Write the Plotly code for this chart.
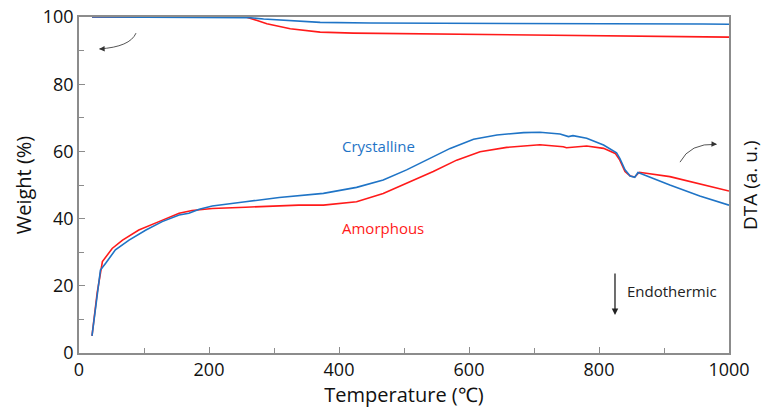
import plotly.graph_objects as go

# ---- data ----
tg_cryst_T = [20, 100, 200, 250, 262, 284, 320, 371, 448, 700, 900, 960, 1000]
tg_cryst_W = [100, 100, 100, 100, 99.8, 99.4, 98.9, 98.4, 98.2, 98.15, 98.1, 97.9, 97.85]

tg_amor_T = [20, 100, 200, 250, 258, 273, 289, 325, 371, 422, 530, 643, 760, 899, 1000]
tg_amor_W = [100, 100, 100, 100, 99.95, 99.0, 98.0, 96.5, 95.5, 95.2, 95.0, 94.8, 94.4, 94.2, 94.0]

dta_cryst_T = [20, 28, 33, 41, 56, 77, 103, 128, 154, 169, 185, 205, 231, 256, 308, 333,
               376, 427, 468, 504, 540, 571, 607, 643, 684, 709, 740, 753, 760, 781, 807,
               827, 832, 840, 848, 855, 860, 866, 909, 955, 1000]
dta_cryst_V = [5.1, 17.8, 24.7, 26.7, 30.7, 33.6, 36.6, 39.1, 41.1, 41.6, 42.8, 43.75, 44.5,
               45.0, 46.3, 46.7, 47.5, 49.3, 51.5, 54.5, 57.9, 60.9, 63.6, 64.9, 65.6, 65.7,
               65.2, 64.4, 64.7, 63.9, 61.9, 59.6, 57.9, 54.5, 52.7, 52.3, 53.7, 53.3, 50.0,
               46.7, 44.0]

dta_amor_T = [20, 28, 36, 51, 67, 92, 123, 154, 174, 205, 256, 308, 338, 376, 427, 468, 509,
              545, 581, 617, 658, 709, 745, 750, 781, 807, 825, 832, 840, 848, 855, 862, 909,
              955, 1000]
dta_amor_V = [5.1, 18.0, 27.2, 31.1, 33.6, 36.6, 39.1, 41.6, 42.4, 43.0, 43.4, 43.75, 44.0,
              44.0, 45.0, 47.5, 51.0, 54.0, 57.4, 59.9, 61.2, 62.0, 61.4, 61.1, 61.6, 60.9,
              59.4, 57.4, 54.0, 52.7, 52.4, 53.8, 52.5, 50.3, 48.2]

x_ticks = [0, 200, 400, 600, 800, 1000]
y_ticks = [0, 20, 40, 60, 80, 100]

BLUE = "#1f74c6"
RED = "#ff1a1a"
AX = "#8c8c8c"
FONT = "Open Sans"

fig = go.Figure()
fig.add_trace(go.Scatter(x=tg_amor_T, y=tg_amor_W, mode="lines",
                         line=dict(color=RED, width=1.6), name="TG Amorphous"))
fig.add_trace(go.Scatter(x=tg_cryst_T, y=tg_cryst_W, mode="lines",
                         line=dict(color=BLUE, width=1.6), name="TG Crystalline"))
fig.add_trace(go.Scatter(x=dta_amor_T, y=dta_amor_V, mode="lines",
                         line=dict(color=RED, width=1.6), name="DTA Amorphous"))
fig.add_trace(go.Scatter(x=dta_cryst_T, y=dta_cryst_V, mode="lines",
                         line=dict(color=BLUE, width=1.6), name="DTA Crystalline"))

# curved arrows (decorations)
fig.add_shape(type="path", xref="x", yref="y",
              path="M 87.7,95.2 Q 78.5,91.1 31.5,90.5",
              line=dict(color="#555555", width=1))
fig.add_shape(type="path", xref="x", yref="y",
              path="M 924.6,56.8 Q 940,62.5 980.5,62.1",
              line=dict(color="#555555", width=1))

annotations = [
    dict(x=31, y=90.5, ax=37, ay=90.55, xref="x", yref="y", axref="x", ayref="y",
         showarrow=True, arrowhead=2, arrowsize=1.1, arrowwidth=1, arrowcolor="#333333", text=""),
    dict(x=981.5, y=62.1, ax=975.5, ay=62.15, xref="x", yref="y", axref="x", ayref="y",
         showarrow=True, arrowhead=2, arrowsize=1.1, arrowwidth=1, arrowcolor="#333333", text=""),
    dict(x=824.6, y=11.3, ax=824.6, ay=24.1, xref="x", yref="y", axref="x", ayref="y",
         showarrow=True, arrowhead=2, arrowsize=1, arrowwidth=1.3, arrowcolor="#222222", text=""),
    dict(x=460, y=61.5, xref="x", yref="y", text="Crystalline", showarrow=False,
         font=dict(family=FONT, size=15, color=BLUE)),
    dict(x=468, y=37.2, xref="x", yref="y", text="Amorphous", showarrow=False,
         font=dict(family=FONT, size=15, color=RED)),
    dict(x=912, y=18.5, xref="x", yref="y", text="Endothermic", showarrow=False,
         font=dict(family=FONT, size=15, color="#222222")),
    dict(x=1, y=0.5, xref="paper", yref="paper", xshift=21, text="DTA (a. u.)",
         textangle=-90, showarrow=False, xanchor="center", yanchor="middle",
         font=dict(family=FONT, size=19, color="#111111")),
]

fig.update_layout(
    width=766, height=408,
    margin=dict(l=79, r=37, t=17, b=55, autoexpand=False),
    paper_bgcolor="white", plot_bgcolor="white",
    showlegend=False,
    font=dict(family=FONT, size=18, color="#111111"),
    annotations=annotations,
)
fig.update_xaxes(
    range=[0, 1000], tickvals=x_ticks, ticktext=[str(v) for v in x_ticks],
    showgrid=False, zeroline=False, automargin=False,
    showline=True, linecolor=AX, linewidth=1.5, mirror=True,
    ticks="inside", ticklen=6, tickcolor=AX, tickwidth=1.2,
    minor=dict(dtick=100, ticks="inside", ticklen=5, tickcolor=AX, tickwidth=1.2),
    tickfont=dict(family=FONT, size=18, color="#111111"),
    title=dict(text="Temperature (℃)", font=dict(family=FONT, size=20), standoff=2),
)
fig.update_yaxes(
    range=[0, 100], tickvals=y_ticks, ticktext=[str(v) for v in y_ticks],
    showgrid=False, zeroline=False, automargin=False,
    showline=True, linecolor=AX, linewidth=1.5, mirror=True,
    ticks="inside", ticklen=6, tickcolor=AX, tickwidth=1.2,
    minor=dict(dtick=10, ticks="inside", ticklen=5, tickcolor=AX, tickwidth=1.2),
    tickfont=dict(family=FONT, size=18, color="#111111"),
    title=dict(text="Weight (%)", font=dict(family=FONT, size=20), standoff=6),
)

fig.write_html("out.html", config={"displayModeBar": False},
               post_script="document.body.style.margin='0';")
